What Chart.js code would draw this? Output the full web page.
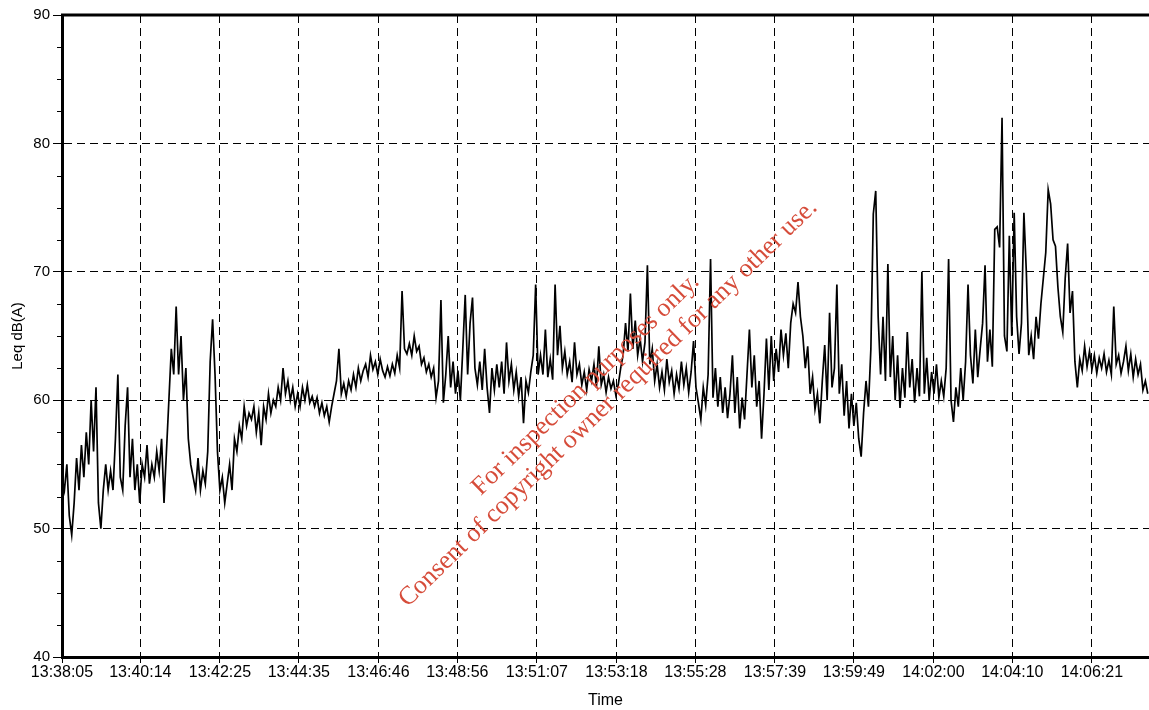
<!DOCTYPE html>
<html>
<head>
<meta charset="utf-8">
<script src="https://cdn.jsdelivr.net/npm/chart.js@4/dist/chart.umd.min.js"></script>
<style>
html,body{margin:0;padding:0;background:#fff;}
#wrap{width:1149px;height:710px;position:relative;}
</style>
</head>
<body>
<div id="wrap"><canvas id="c" width="1149" height="710"></canvas></div>
<script>
// Sampling interval of the logger (seconds)
const sampleIntervalSec = 4;

// Leq dB(A) readings, one per sample
const levels = [
  54,53,55,51,49.5,52,55.5,53,56.5,54,57.5,55,60,56,61,52,50,53,55,53,54.5,53,57,62,54,53,58,61,54,57,53,55,52,
  55,54,56.5,53.5,55,54,56,54.5,57,52,56,60,64,62,67.3,62,65,60,62.5,57,55,54,53,55.5,53,54.5,53.5,56,63,66.3,62,56,53,
  54,52,53.5,55,53,57,56,58,57,59.5,58,59,58.5,59.5,57.5,59,56.5,59.5,58.5,60.5,59,60,59.5,61,60,62.5,60.5,61.5,60,61,59.5,60.5,59.5,
  61,60,61.2,59.8,60.3,59.5,60.2,59,59.8,58.8,59.5,58.3,59.5,60.5,61.5,64,60.5,61.3,60.3,61.5,60.8,62,61,62.5,61.5,62.3,62.8,61.8,63.5,62.4,63,62,63.2,
  62.3,61.8,62.6,61.9,62.8,62.1,63.5,62.5,68.5,64,63.6,64.4,63.5,65,63.8,64.2,62.8,63.3,62.2,62.8,61.8,62.5,60.2,61.5,67.8,59.8,62,65,61,63,60.5,62.3,60,
  64,68.2,62,66,68,62.5,61.2,63,60.8,64,61,59,62.5,60.8,62.8,61,63,60.5,64.5,61.5,62.8,60.8,62.2,60.3,61.8,58.2,61.5,60.6,62.2,63.5,69,62,63.5,
  62,65.5,61.8,63.2,61.6,69,63.5,65.8,62.5,63.8,62,63,61.4,64.5,62,62.8,61.2,62.2,60.8,62.4,61.5,62.8,61,64.2,61.2,62,60.6,61.8,60.9,61.5,60.4,61.2,62.5,
  63.5,66,63.8,68.3,64,66.2,63.5,64.8,63,64.5,70.5,62.8,64,61.5,62.8,61,62.2,60.8,63.2,61.4,62.3,60.5,62,60.9,63,61.2,62.5,60.6,62.2,64.6,61,59.8,58.5,
  61,59.6,62,71,60.2,62.5,59.5,61.8,59,61,58.6,60.5,63.5,59,61.8,57.8,60.2,58.5,62,65.5,61,63.5,59.5,61.5,57,60.5,64.8,60.8,65,61.5,64,62.2,65.5,
  63.5,65.2,62.5,66,67.5,66.8,69.2,66.5,65,62.5,64.2,60.5,61.8,59.3,60.5,58.2,61.5,64.3,60,66.8,61,62.5,69,60.5,62.8,58.8,61.5,57.8,60.5,58,59.8,57,55.6,
  59,61.5,59.5,64,74.5,76.3,66.5,62,66.5,61.5,70.6,61.8,65,60,63.5,59.4,62.5,60.2,65.3,61,63.2,59.8,62.5,60.3,70,60.5,63.3,60,62.2,60.5,62.8,60.2,61.5,
  60.3,62.5,71,60,58.3,61,59.5,62.5,60,63,69,63.5,61.3,65.5,61.8,64,66,70.5,63,65.5,62.6,73.3,73.5,71.9,82,65,63.8,72.8,65,74.6,66.5,63.6,66,
  74.6,70,63.5,65,63.2,66.5,64.8,67.5,69.5,71.5,76.4,75.3,72.5,72,68.8,66.5,65.3,69.5,72.2,66.8,68.5,63,61,63.2,62.3,64.2,62.6,63.8,62.4,63.5,62.1,63.3,62.5,
  63.6,62.2,63.1,62,67.3,62.8,63.5,62.1,63,64.2,62.3,63.6,61.8,63.2,62,62.8,60.8,61.5,60.5
];

// X axis tick positions (seconds after 13:38:05) and their labels
const tickSeconds = [0,129,260,390,521,651,782,913,1043,1174,1304,1435,1565,1696];
const tickLabels = ['13:38:05','13:40:14','13:42:25','13:44:35','13:46:46','13:48:56','13:51:07','13:53:18','13:55:28','13:57:39','13:59:49','14:02:00','14:04:10','14:06:21'];
const xMaxSec = 1790;

// Y axis range
const yMin = 40, yMax = 90, yStep = 10, yMinorStep = 2.5;

const xTitle = 'Time';
const yTitle = 'Leq dB(A)';
const watermarkLines = ['For inspection purposes only.', 'Consent of copyright owner required for any other use.'];

const points = levels.map((v, i) => ({x: i * sampleIntervalSec, y: v}));

const frame = {
  id: 'frame',
  afterDraw(chart) {
    const {ctx, chartArea: a, scales: {y}} = chart;
    ctx.save();
    // solid top line
    ctx.strokeStyle = '#000';
    ctx.lineWidth = 3;
    ctx.beginPath();
    ctx.moveTo(a.left - 1, a.top);
    ctx.lineTo(a.right, a.top);
    ctx.stroke();
    // minor ticks on the y axis
    ctx.lineWidth = 1;
    for (let v = yMin + yMinorStep; v < yMax; v += yMinorStep) {
      if (Math.abs(v % yStep) < 1e-6) continue;
      const py = Math.round(y.getPixelForValue(v)) + 0.5;
      ctx.beginPath();
      ctx.moveTo(a.left - 5, py);
      ctx.lineTo(a.left, py);
      ctx.stroke();
    }
    // watermark
    ctx.fillStyle = 'rgb(214,76,58)';
    ctx.font = '26px "Liberation Serif", "Times New Roman", serif';
    ctx.textAlign = 'center';
    ctx.textBaseline = 'alphabetic';
    ctx.translate(590.5, 389.5);
    ctx.rotate(-44.2 * Math.PI / 180);
    ctx.fillText(watermarkLines[0], 0, 0);
    ctx.fillText(watermarkLines[1], 3, 29);
    ctx.restore();
  }
};

new Chart(document.getElementById('c'), {
  type: 'line',
  data: {
    datasets: [{
      data: points,
      borderColor: '#000',
      borderWidth: 1.7,
      pointRadius: 0,
      tension: 0,
      fill: false
    }]
  },
  options: {
    responsive: false,
    animation: false,
    devicePixelRatio: 1,
    layout: {padding: {top: 15, right: 0, left: 0, bottom: 0}},
    plugins: {legend: {display: false}, tooltip: {enabled: false}},
    scales: {
      x: {
        type: 'linear',
        min: 0,
        max: xMaxSec,
        afterBuildTicks: (s) => { s.ticks = tickSeconds.map(v => ({value: v})); },
        afterFit: (s) => { s.height = 53; },
        ticks: {
          autoSkip: false,
          maxRotation: 0,
          padding: 0,
          color: '#000',
          font: {family: '"Liberation Sans", Arial, sans-serif', size: 16},
          callback: (v, i) => tickLabels[i]
        },
        grid: {
          color: (c) => (c.tick && c.tick.value === 0) ? 'rgba(0,0,0,0)' : '#000',
          lineWidth: 1,
          tickLength: 6,
          tickColor: '#000'
        },
        border: {display: true, color: '#000', width: 3, dash: [8, 5]},
        title: {
          display: true,
          text: xTitle,
          color: '#000',
          font: {family: '"Liberation Sans", Arial, sans-serif', size: 16},
          padding: {top: 2, bottom: 0}
        }
      },
      y: {
        min: yMin,
        max: yMax,
        afterFit: (s) => { s.width = 62; },
        ticks: {
          stepSize: yStep,
          padding: 3,
          color: '#000',
          font: {family: '"Liberation Sans", Arial, sans-serif', size: 15}
        },
        grid: {
          color: (c) => (c.tick && (c.tick.value === yMin || c.tick.value === yMax)) ? 'rgba(0,0,0,0)' : '#000',
          lineWidth: 1,
          tickLength: 9,
          tickColor: '#000'
        },
        border: {display: true, color: '#000', width: 3, dash: [8, 5]},
        title: {
          display: true,
          text: yTitle,
          color: '#000',
          font: {family: '"Liberation Sans", Arial, sans-serif', size: 15},
          padding: {top: 9, bottom: 0}
        }
      }
    }
  },
  plugins: [frame]
});
</script>
</body>
</html>
